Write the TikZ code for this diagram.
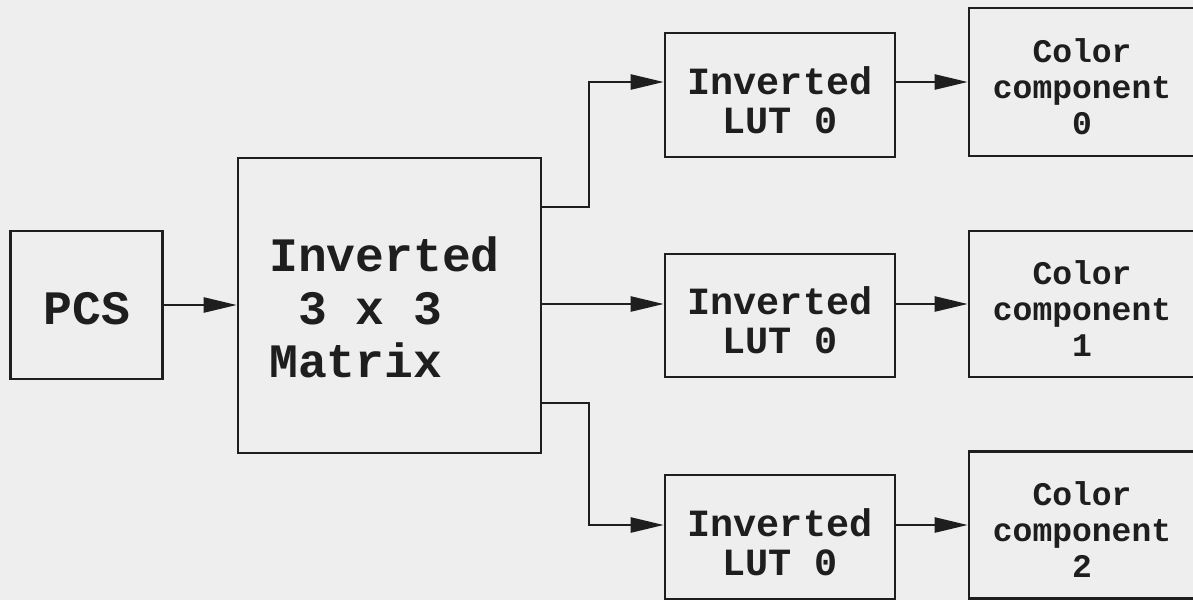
\documentclass[tikz,border=0pt]{standalone}
\usepackage{fontspec}
\setmonofont{Liberation Mono}
\usetikzlibrary{arrows.meta}
\definecolor{bg}{RGB}{238,238,238}
\definecolor{ink}{RGB}{30,30,30}
\begin{document}
\begin{tikzpicture}[x=1pt,y=-1pt,
  box/.style={draw=ink, line width=2.6pt, fill=bg, inner sep=0pt},
  bigfont/.style={font=\ttfamily\bfseries\fontsize{48}{53}\selectfont},
  lutfont/.style={font=\ttfamily\bfseries\fontsize{38.5}{39}\selectfont},
  colfont/.style={font=\ttfamily\bfseries\fontsize{33}{36}\selectfont},
  txt/.style={text=ink, align=center, inner sep=0pt, yshift=-5pt},
  arr/.style={draw=ink, line width=2.4pt, -{Triangle[length=33pt,width=15pt]}}]
\fill[bg] (0,0) rectangle (1193,600);
\useasboundingbox (0,0) rectangle (1193,600);

\node[box, minimum width=152pt, minimum height=148pt,
  label={[txt, bigfont, yshift=1pt]center:PCS}] (pcs) at (86.75,305) {};
\node[box, minimum width=303pt, minimum height=295pt,
  label={[txt, bigfont, align=left, xshift=-5pt, yshift=3pt]center:{Inverted\\\hphantom{0}3 x 3\\Matrix}}] (mat) at (389.5,305.5) {};

\node[box, minimum width=230pt, minimum height=124pt,
  label={[txt, lutfont]center:{Inverted\\LUT 0}}] (lut0) at (780,95) {};
\node[box, minimum width=230pt, minimum height=123pt,
  label={[txt, lutfont]center:{Inverted\\LUT 0}}] (lut1) at (780,315.5) {};
\node[box, minimum width=230pt, minimum height=124pt,
  label={[txt, lutfont]center:{Inverted\\LUT 0}}] (lut2) at (780,537) {};

\node[box, minimum width=226pt, minimum height=148pt,
  label={[txt, colfont]center:{Color\\component\\0}}] (col0) at (1082,82) {};
\node[box, minimum width=226pt, minimum height=146pt,
  label={[txt, colfont]center:{Color\\component\\1}}] (col1) at (1082,304) {};
\node[box, minimum width=226pt, minimum height=147pt,
  label={[txt, colfont]center:{Color\\component\\2}}] (col2) at (1082,525) {};

\coordinate (m0) at (541,207);
\coordinate (m2) at (541,403);
\coordinate (j) at (589,0);

\draw[arr] (pcs.east) -- (pcs.east -| mat.west);
\draw[arr] (m0) -- (m0 -| j) |- (lut0.west |- col0);
\draw[arr] (mat.east |- col1) -- (lut1.west |- col1);
\draw[arr] (m2) -- (m2 -| j) |- (lut2.west |- col2);

\draw[arr] (lut0.east |- col0) -- (col0.west);
\draw[arr] (lut1.east |- col1) -- (col1.west);
\draw[arr] (lut2.east |- col2) -- (col2.west);
\end{tikzpicture}
\end{document}
